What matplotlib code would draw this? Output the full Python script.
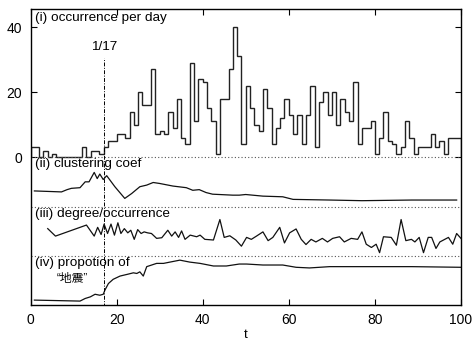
import matplotlib
matplotlib.use("Agg")
import matplotlib.pyplot as plt
import numpy as np

plt.rcParams['font.family'] = ['Liberation Sans', 'Noto Sans CJK JP', 'DejaVu Sans']
plt.rcParams['font.size'] = 9.7

# (i) occurrence per day, one bin per day from 0 to 100
occurrence = [3, 3, 0, 2, 0, 1, 0, 0, 0, 0, 0, 0, 3, 0, 2, 2, 1, 3, 5, 5,
              7, 7, 6, 14, 10, 20, 16, 16, 27, 7, 8, 7, 14, 9, 18, 6, 4, 29, 11, 24,
              23, 15, 11, 1, 18, 18, 27, 40, 31, 4, 22, 15, 10, 8, 21, 15, 4, 9, 12, 18,
              13, 7, 13, 4, 13, 22, 3, 17, 20, 13, 20, 10, 18, 14, 11, 23, 4, 9, 9, 11,
              1, 6, 14, 5, 4, 1, 3, 11, 6, 1, 3, 3, 3, 7, 3, 5, 1, 6, 6, 6]
day_edges = np.arange(len(occurrence) + 1)

# (ii) clustering coefficient (shifted panel values)
clus_t = [0.9, 7.2, 8.5, 9.5, 11.5, 12.7, 13.6, 14.8, 15.5, 16.1, 16.9, 17.7, 19.6, 21.9,
          23.5, 25.4, 27.0, 28.5, 30.0, 33.1, 36.2, 37.7, 39.2, 40.8, 42.3, 47.0, 48.5,
          50.0, 54.0, 58.6, 61.0, 69.5, 77.0, 88.6, 99.0]
clus_v = [-10.4, -10.7, -10.0, -9.6, -9.4, -7.6, -7.6, -4.7, -6.6, -5.2, -6.9, -5.7, -9.1, -12.7,
          -11.2, -9.1, -8.6, -7.8, -8.1, -8.9, -9.4, -10.2, -10.0, -10.9, -11.4, -11.7, -11.7,
          -11.5, -12.0, -12.2, -13.0, -13.2, -13.4, -13.2, -13.2]

# (iii) degree / occurrence
deg_t = [4.0, 5.8, 13.0, 14.8, 15.6, 16.4, 17.1, 17.9, 18.7, 19.5, 20.3, 21.0, 21.8, 22.6,
         23.3, 24.1, 24.9, 25.7, 26.4, 27.2, 28.1, 29.3, 30.5, 31.9, 32.8, 33.6, 34.4, 35.1,
         35.9, 37.1, 38.6, 39.4, 40.5, 42.5, 44.0, 45.0, 46.3, 47.7, 49.0, 50.2, 51.3, 52.5,
         54.0, 55.2, 56.3, 57.9, 59.0, 60.2, 61.7, 62.9, 64.0, 65.2, 66.3, 67.8, 69.0, 70.2,
         71.8, 72.9, 74.5, 76.0, 77.0, 78.0, 79.2, 80.3, 81.1, 82.0, 83.8, 85.0, 86.1, 87.2,
         88.5, 89.3, 90.3, 91.3, 92.4, 93.2, 94.2, 95.1, 97.1, 98.1, 99.0, 100.0]
deg_v = [-22.0, -24.3, -20.9, -24.3, -21.6, -23.8, -20.6, -23.5, -20.6, -24.0, -20.2, -23.5, -22.0, -23.3,
         -22.5, -25.3, -22.3, -23.5, -23.0, -23.3, -23.5, -25.0, -24.8, -22.5, -24.3, -23.0, -24.7, -22.7,
         -25.3, -24.0, -24.5, -24.0, -25.3, -25.5, -19.2, -24.7, -24.2, -25.5, -27.4, -24.7, -25.3, -24.3,
         -23.0, -25.7, -24.7, -21.6, -26.4, -23.3, -22.1, -25.3, -26.9, -25.3, -26.1, -25.0, -26.1, -25.0,
         -24.5, -26.1, -25.0, -25.3, -23.0, -26.8, -27.8, -26.8, -29.4, -24.5, -24.7, -27.1, -19.2, -25.7,
         -25.3, -26.1, -24.7, -29.4, -24.7, -24.7, -28.1, -26.1, -24.7, -26.8, -23.5, -25.0]

# (iv) proportion of "地震"
prop_t = [0.9, 11.5, 12.7, 13.9, 15.0, 16.1, 16.9, 17.3, 18.1, 19.2, 20.8, 22.7, 23.9, 24.7,
          25.4, 26.2, 27.0, 29.3, 30.9, 32.4, 34.7, 37.0, 39.4, 42.5, 45.5, 48.5, 50.2, 54.0,
          58.6, 61.7, 64.8, 69.5, 77.0, 88.6, 100.0]
prop_v = [-44.0, -44.3, -43.5, -43.0, -42.2, -42.5, -42.2, -40.9, -38.9, -37.6, -36.6, -36.0, -35.6, -35.8,
          -35.3, -36.6, -33.7, -32.7, -32.7, -32.3, -31.7, -32.3, -32.7, -33.5, -33.5, -32.9, -32.9, -33.2,
          -33.2, -33.9, -34.1, -33.7, -33.7, -33.7, -33.9]

separators = [0, -15.3, -30.5]
event_day = 17

fig = plt.figure(figsize=(4.73, 3.45), dpi=100)
ax = fig.add_axes([0.0645, 0.116, 0.91, 0.857])

ax.stairs(occurrence, day_edges, baseline=0, color='#222222', lw=1.0)
for s in separators:
    ax.axhline(s, color='#555555', lw=0.8, ls=(0, (1, 2)))
ax.plot(clus_t, clus_v, color='#111111', lw=0.9)
ax.plot(deg_t, deg_v, color='#111111', lw=0.9)
ax.plot(prop_t, prop_v, color='#111111', lw=0.9)

ax.plot([event_day, event_day], [-46, 30.5], color='black', lw=0.7, ls=(0, (4, 1.5, 1, 1.5)))
ax.text(event_day, 32, '1/17', ha='center', va='bottom')

ax.text(1, 44.8, '(i) occurrence per day', va='top')
ax.text(1, -0.4, '(ii) clustering coef', va='top')
ax.text(1, -15.6, '(iii) degree/occurrence', va='top')
ax.text(1, -30.8, '(iv) propotion of', va='top')
ax.text(6, -35.6, '“地震”', va='top', fontsize=8.5)

ax.set_xlim(0, 100)
ax.set_ylim(-45.5, 45.5)
ax.set_xticks([0, 20, 40, 60, 80, 100])
ax.set_yticks([0, 20, 40])
ax.tick_params(direction='in', top=True, right=True, length=4, width=0.8,
               labelsize=10, pad=6)
for sp in ax.spines.values():
    sp.set_linewidth(1.0)
ax.set_xlabel('t', labelpad=1)

fig.savefig('out.png', dpi=100)
